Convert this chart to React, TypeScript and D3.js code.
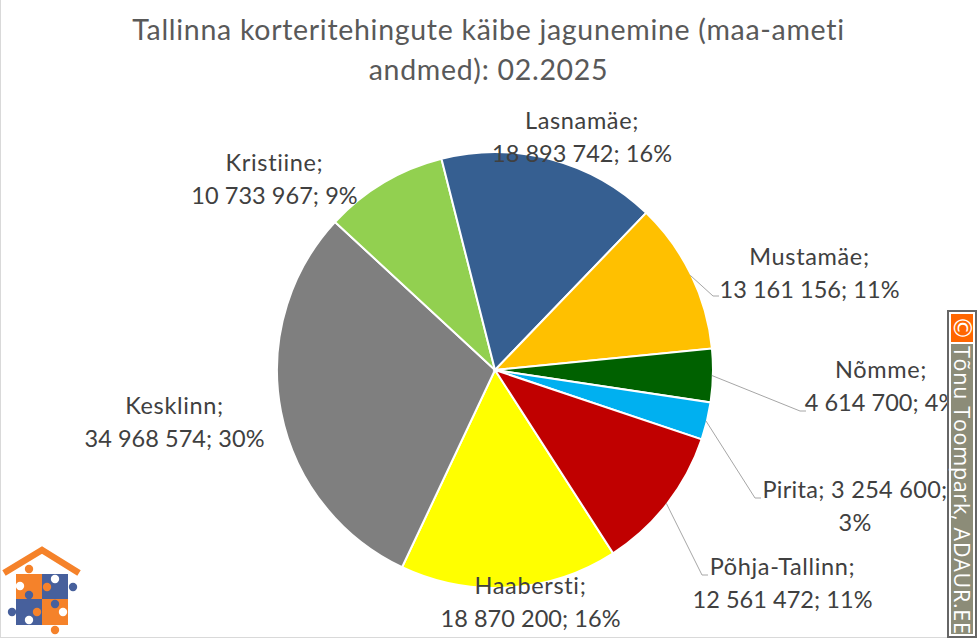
import * as d3 from 'd3';
import React from 'react';

const regions = ['Haabersti', 'Kesklinn', 'Kristiine', 'Lasnamäe', 'Mustamäe', 'Nõmme', 'Pirita', 'Põhja-Tallinn'];
const turnover = [18870200, 34968574, 10733967, 18893742, 13161156, 4614700, 3254600, 12561472];
const turnoverLabels = ['18 870 200', '34 968 574', '10 733 967', '18 893 742', '13 161 156', '4 614 700', '3 254 600', '12 561 472'];
const percents = ['16%', '30%', '9%', '16%', '11%', '4%', '3%', '11%'];
const colors = ['#ffff00', '#7f7f7f', '#92d050', '#365f91', '#ffc000', '#006100', '#00b0f0', '#c00000'];
const titleLines = ['Tallinna korteritehingute käibe jagunemine (maa-ameti', 'andmed): 02.2025'];

// label centre and first baseline, same order as regions
const labelX = [530.5, 174.5, 274.5, 582, 809.5, 881, 855, 782.5];
const labelY = [594, 414, 171, 129, 265, 378, 498, 575];
// elbows of the leader lines, only the small outer slices have one
const leaders: Record<string, [number, number]> = {
  'Mustamäe': [713, 296],
  'Nõmme': [800, 411],
  'Pirita': [755, 498],
  'Põhja-Tallinn': [702, 575],
};

const width = 977;
const height = 638;
const cx = 495;
const cy = 370;
const radius = 218;
const font = 'Lato, Carlito, sans-serif';
const orange = '#f5822a';
const blue = '#47609c';

function App() {
  const pie = d3.pie<number>().sort(null).startAngle((147.2 * Math.PI) / 180).endAngle((507.2 * Math.PI) / 180);
  const arcs = pie(turnover);
  const arc = d3.arc<d3.PieArcDatum<number>>().innerRadius(0).outerRadius(radius);
  const edge = d3.arc<d3.PieArcDatum<number>>().innerRadius(radius * 2 - 2).outerRadius(0);

  return (
    <svg width={width} height={height} style={{ position: 'absolute', left: 0, top: 0, display: 'block', background: '#fff' }}>
      <rect x={0.5} y={-5} width={width} height={height + 4.5} fill="none" stroke="#d9d9d9" />
      {titleLines.map((t, i) => (
        <text key={t} x={488.5} y={40 + i * 40} textAnchor="middle" fontFamily={font} fontSize={28.5} letterSpacing={0.7} fill="#595959">{t}</text>
      ))}
      <g transform={`translate(${cx},${cy})`}>
        {arcs.map((a, i) => (
          <path key={regions[i]} d={arc(a) || ''} fill={colors[i]} stroke="#fff" strokeWidth={2} />
        ))}
      </g>
      {arcs.map((a, i) => {
        const elbow = leaders[regions[i]];
        if (!elbow) return null;
        const [sx, sy] = edge.centroid(a);
        const pts = [[sx + cx, sy + cy], elbow, [elbow[0] + 6, elbow[1]]] as [number, number][];
        return <path key={regions[i]} d={d3.line()(pts) || ''} fill="none" stroke="#a6a6a6" strokeWidth={1} />;
      })}
      {regions.map((r, i) => {
        const oneLine = r === 'Pirita';
        const lines = oneLine
          ? [`${r}; ${turnoverLabels[i]};`, percents[i]]
          : [`${r};`, `${turnoverLabels[i]}; ${percents[i]}`];
        return (
          <text key={r} textAnchor="middle" fontFamily={font} fontSize={23.5} fill="#404040">
            {lines.map((l, j) => (
              <tspan key={l} x={labelX[i]} y={labelY[i] + j * 33} letterSpacing={oneLine ? 0.3 : j === 0 ? 0.65 : 0.05}>{l}</tspan>
            ))}
          </text>
        );
      })}
      {/* copyright strip */}
      <g>
        <rect x={948} y={311} width={28} height={326} fill="#fff" stroke="#666" strokeWidth={2} />
        <rect x={951} y={314} width={22} height={28} fill="#ff6600" />
        <rect x={951} y={344} width={22} height={290} fill="#8c8c78" />
        <text transform="translate(962,328) rotate(90)" textAnchor="middle" dominantBaseline="central" fontFamily="'DejaVu Sans', sans-serif" fontSize={24} fill="#fff">©</text>
        <text transform="translate(953.5,346) rotate(90)" fontFamily="'Open Sans', sans-serif" fontSize={21.5} fill="#fff" textLength={288}>Tõnu Toompark, ADAUR.EE</text>
      </g>
      {/* logo */}
      <g>
        <polyline points="4,573 42,550 79,573" fill="none" stroke={orange} strokeWidth={6.5} />
        <rect x={16} y={574} width={26} height={25} fill={orange} />
        <rect x={42} y={574} width={26} height={25} fill={blue} />
        <rect x={16} y={599} width={26} height={26} fill={blue} />
        <rect x={42} y={599} width={26} height={26} fill={orange} />
        <circle cx={29} cy={569} r={4.2} fill={orange} />
        <circle cx={47} cy={587} r={4.2} fill={orange} />
        <circle cx={37} cy={612} r={4.2} fill={orange} />
        <circle cx={55} cy={630} r={4.2} fill={orange} />
        <circle cx={73} cy={587} r={4.2} fill={blue} />
        <circle cx={29} cy={595} r={4.2} fill={blue} />
        <circle cx={12} cy={612} r={4.2} fill={blue} />
        <circle cx={55} cy={604} r={4.2} fill={blue} />
        <circle cx={20} cy={586} r={4.2} fill="#fff" />
        <circle cx={55} cy={579} r={4.2} fill="#fff" />
        <circle cx={29} cy={620} r={4.2} fill="#fff" />
        <circle cx={63} cy={612} r={4.2} fill="#fff" />
      </g>
    </svg>
  );
}

export default App;
